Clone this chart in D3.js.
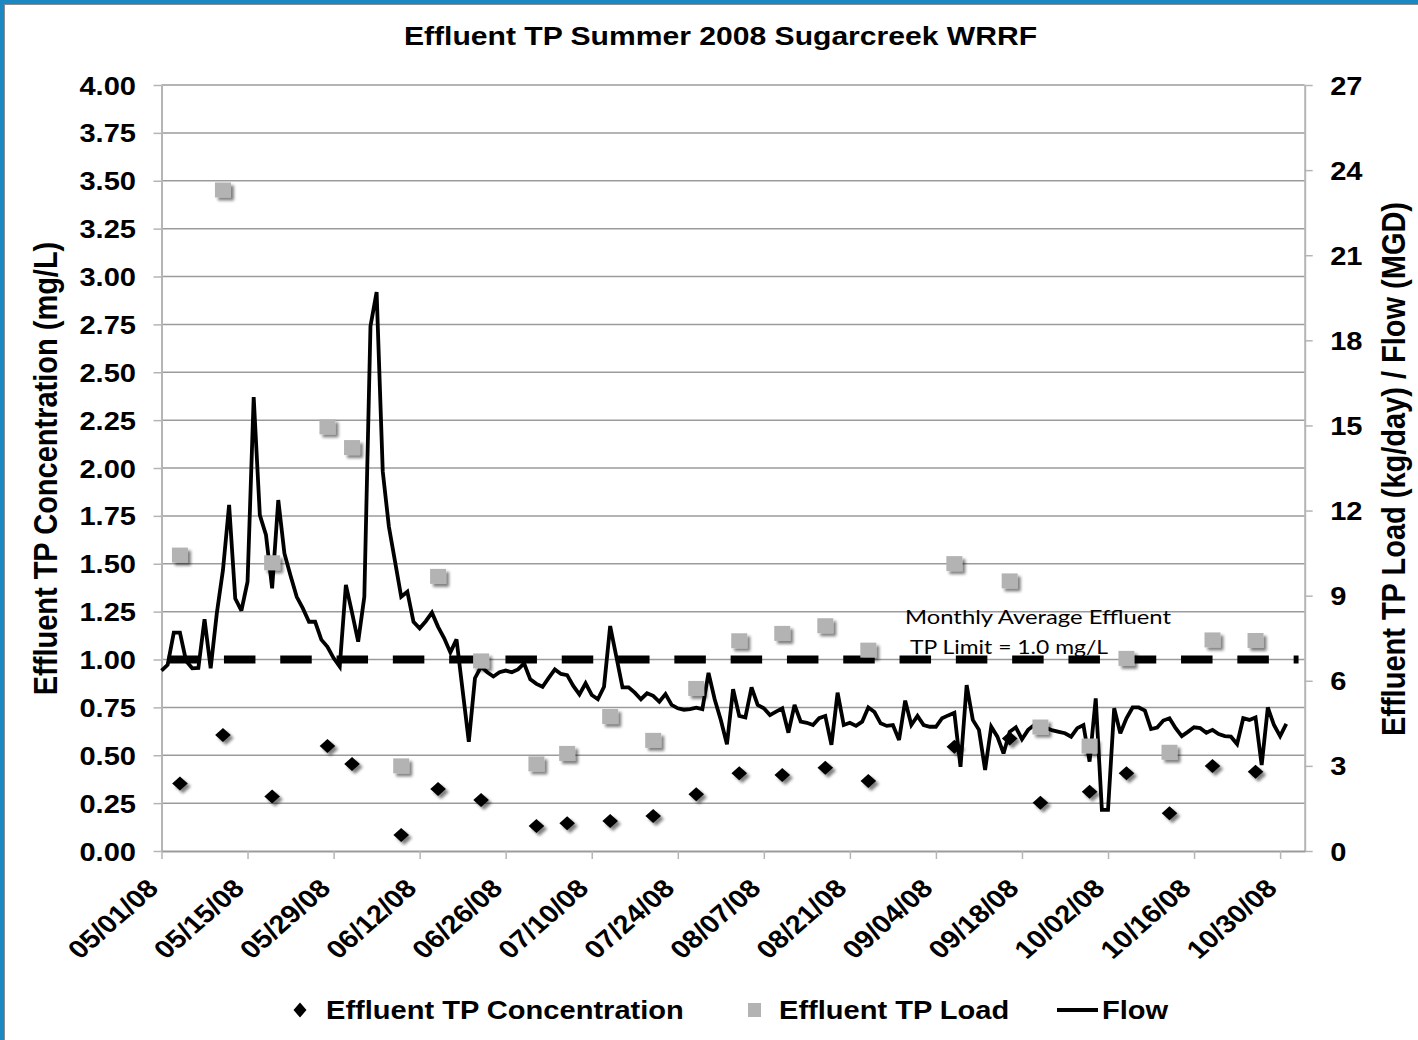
<!DOCTYPE html>
<html><head><meta charset="utf-8">
<script src="https://cdn.jsdelivr.net/npm/d3@7"></script>
<style>html,body{margin:0;padding:0;background:#fff;} svg{display:block;}</style>
</head><body>
<svg id="chart" width="1418" height="1040"></svg>
<script>
// ---------------- data ----------------
const chartTitle = "Effluent TP Summer 2008 Sugarcreek WRRF";
const leftAxisTitle = "Effluent TP Concentration (mg/L)";
const rightAxisTitle = "Effluent TP Load (kg/day) / Flow (MGD)";
const seriesNames = ["Effluent TP Concentration", "Effluent TP Load", "Flow"];

const sampleDates = ["2008-05-04","2008-05-11","2008-05-19","2008-05-28","2008-06-01","2008-06-09","2008-06-15","2008-06-22",
  "2008-07-01","2008-07-06","2008-07-13","2008-07-20","2008-07-27","2008-08-03","2008-08-10","2008-08-17","2008-08-24",
  "2008-09-07","2008-09-16","2008-09-21","2008-09-29","2008-10-05","2008-10-12","2008-10-19","2008-10-26"];
const concValues = [0.353,0.606,0.284,0.548,0.454,0.084,0.324,0.266,0.131,0.145,0.157,0.183,0.296,0.406,0.397,0.435,0.366,
  0.545,0.588,0.252,0.310,0.406,0.197,0.444,0.414];
const loadValues = [10.43,23.3,10.16,14.95,14.22,3.0,9.68,6.7,3.07,3.44,4.74,3.9,5.73,7.41,7.67,7.94,7.08,
  10.13,9.52,4.37,3.7,6.79,3.48,7.44,7.42];

const flowStart = "2008-05-01"; // one value per day from this date
const flowValues = [6.36,6.56,7.7,7.7,6.7,6.44,6.45,8.17,6.44,8.38,9.9,12.2,8.9,8.47,9.49,16.0,11.84,11.14,9.26,12.37,
  10.49,9.7,8.96,8.55,8.08,8.08,7.45,7.2,6.8,6.5,9.38,8.4,7.38,8.96,18.5,19.7,13.37,11.43,10.2,8.96,
  9.14,8.08,7.85,8.1,8.4,7.9,7.5,7.0,7.46,5.65,3.85,6.09,6.5,6.3,6.15,6.3,6.36,6.3,6.4,6.61,
  6.05,5.89,5.79,6.1,6.4,6.24,6.2,5.82,5.52,5.91,5.5,5.35,5.79,7.93,6.85,5.77,5.77,5.58,5.35,5.56,
  5.47,5.26,5.53,5.15,5.03,4.98,5.0,5.05,5.0,6.28,5.35,4.62,3.76,5.7,4.76,4.71,5.77,5.15,5.03,4.79,
  4.91,5.03,4.17,5.15,4.56,4.52,4.44,4.68,4.76,3.74,5.58,4.44,4.52,4.41,4.56,5.06,4.9,4.5,4.41,4.44,
  3.91,5.3,4.44,4.76,4.44,4.38,4.38,4.68,4.78,4.87,2.97,5.85,4.62,4.27,2.86,4.38,4.03,3.44,4.2,4.36,
  3.94,4.27,4.44,4.4,4.33,4.25,4.2,4.15,4.03,4.33,4.44,3.15,5.38,1.45,1.45,5.03,4.15,4.68,5.06,5.06,
  4.95,4.3,4.35,4.6,4.68,4.33,4.05,4.2,4.36,4.33,4.17,4.27,4.12,4.05,4.03,3.77,4.68,4.62,4.71,3.03,
  5.06,4.44,4.05,4.48];

const limitValue = 1.0;
const limitDates = ["2008-05-02","2008-11-02"];
const limitNote = ["Monthly Average Effluent", "TP Limit = 1.0 mg/L"];

const xTickDates = ["2008-05-01","2008-05-15","2008-05-29","2008-06-12","2008-06-26","2008-07-10","2008-07-24",
  "2008-08-07","2008-08-21","2008-09-04","2008-09-18","2008-10-02","2008-10-16","2008-10-30"];
const xTickLabels = ["05/01/08","05/15/08","05/29/08","06/12/08","06/26/08","07/10/08","07/24/08",
  "08/07/08","08/21/08","09/04/08","09/18/08","10/02/08","10/16/08","10/30/08"];
const leftTicks = [0,0.25,0.5,0.75,1,1.25,1.5,1.75,2,2.25,2.5,2.75,3,3.25,3.5,3.75,4];
const rightTicks = [0,3,6,9,12,15,18,21,24,27];
const xDomain = ["2008-05-01","2008-11-03"];

// ---------------- drawing ----------------
const SX = 1.14;
const FONT = "'Liberation Sans', Arial, Helvetica, sans-serif";
const parse = d3.utcParse("%Y-%m-%d");
const svg = d3.select("#chart");
const L = 161.5, R = 1304.7, T = 85, B = 851;

const x = d3.scaleUtc().domain(xDomain.map(parse)).range([L, R]);
const yL = d3.scaleLinear().domain([0, 4]).range([B, T]);
const yR = d3.scaleLinear().domain([0, 27]).range([B, T]);

// defs: shadow
const defs = svg.append("defs");
const f = defs.append("filter").attr("id", "sh").attr("x", "-60%").attr("y", "-60%").attr("width", "220%").attr("height", "220%");
f.append("feGaussianBlur").attr("in", "SourceAlpha").attr("stdDeviation", 1.8);
f.append("feOffset").attr("dx", 3).attr("dy", 3).attr("result", "ob");
f.append("feComponentTransfer").attr("in", "ob").attr("result", "sb")
  .append("feFuncA").attr("type", "linear").attr("slope", 0.5);
const fm = f.append("feMerge");
fm.append("feMergeNode").attr("in", "sb");
fm.append("feMergeNode").attr("in", "SourceGraphic");

// background and frame
svg.append("rect").attr("width", 1418).attr("height", 1040).attr("fill", "#fff");
svg.append("rect").attr("x", 0).attr("y", 0).attr("width", 1418).attr("height", 4).attr("fill", "#1b87c3");
svg.append("rect").attr("x", 0).attr("y", 0).attr("width", 4).attr("height", 1040).attr("fill", "#1b87c3");
svg.append("line").attr("x1", 4).attr("x2", 1418).attr("y1", 4.5).attr("y2", 4.5).attr("stroke", "#8c8c8c").attr("stroke-width", 1);
svg.append("line").attr("x1", 4.5).attr("x2", 4.5).attr("y1", 4).attr("y2", 1040).attr("stroke", "#8c8c8c").attr("stroke-width", 1);

function stretchedText(g, tx, ty, txt, opts) {
  const rot = opts.rotate ? ` rotate(${opts.rotate})` : "";
  return g.append("text")
    .attr("transform", `translate(${tx},${ty}) scale(${opts.sx || SX},1)${rot}`)
    .attr("text-anchor", opts.anchor || "start")
    .attr("font-family", opts.family || FONT)
    .attr("font-weight", opts.weight || "bold")
    .attr("font-size", opts.size || 25.5)
    .attr("fill", opts.fill || "#000")
    .text(txt);
}

// title
stretchedText(svg, (404 + 1037) / 2, 44.5, chartTitle, { anchor: "middle", size: 26.4 });

// gridlines
svg.append("g").selectAll("line").data(leftTicks.filter(v => v > 0)).join("line")
  .attr("x1", L).attr("x2", R).attr("y1", d => yL(d)).attr("y2", d => yL(d))
  .attr("stroke", "#9b9b9b").attr("stroke-width", 1.5);

// axes
const axisColor = "#b5b5b5";
const gl = svg.append("g").attr("transform", `translate(${L},0)`)
  .call(d3.axisLeft(yL).tickValues(leftTicks).tickSize(8).tickSizeOuter(0).tickFormat(d3.format(".2f")));
const gr = svg.append("g").attr("transform", `translate(${R},0)`)
  .call(d3.axisRight(yR).tickValues(rightTicks).tickSize(8).tickSizeOuter(0).tickFormat(d3.format("d")));
const gb = svg.append("g").attr("transform", `translate(0,${B})`)
  .call(d3.axisBottom(x).tickValues(xTickDates.map(parse)).tickSize(8).tickSizeOuter(0)
    .tickFormat((d, i) => xTickLabels[i]));
[gl, gr, gb].forEach(g => {
  g.select(".domain").attr("stroke", axisColor).attr("stroke-width", 2);
  g.selectAll(".tick line").attr("stroke", axisColor).attr("stroke-width", 1.5);
  g.selectAll(".tick text").attr("fill", "#000").attr("font-family", FONT).attr("font-weight", "bold")
    .attr("font-size", 25.5).attr("x", null).attr("y", null).attr("dy", null);
});
gb.select(".domain").attr("stroke", "#9b9b9b");
gl.selectAll(".tick text").attr("text-anchor", "end").attr("transform", `translate(-25.5,9) scale(${SX},1)`);
gr.selectAll(".tick text").attr("text-anchor", "start").attr("transform", `translate(25.5,9) scale(${SX},1)`);
gb.selectAll(".tick text").attr("text-anchor", "end").attr("transform", `translate(-2,39) scale(${SX},1) rotate(-45)`);

// axis titles
stretchedText(svg, 57, (240 + 697) / 2, leftAxisTitle, { anchor: "middle", size: 29, rotate: -90 });
stretchedText(svg, 1405, (200 + 738) / 2, rightAxisTitle, { anchor: "middle", size: 29, rotate: -90 });

// flow line
const flowData = flowValues.map((v, i) => ({ date: d3.utcDay.offset(parse(flowStart), i), v }));
svg.append("path").datum(flowData)
  .attr("d", d3.line().x(d => x(d.date)).y(d => yR(d.v)))
  .attr("fill", "none").attr("stroke", "#000").attr("stroke-width", 3.8)
  .attr("stroke-linejoin", "miter").attr("stroke-miterlimit", 3);

// annotation
svg.append("text").attr("x", 905).attr("y", 624).attr("font-family", "Lato, 'Open Sans', sans-serif")
  .attr("font-size", 19.2).attr("fill", "#000").attr("textLength", 266).attr("lengthAdjust", "spacingAndGlyphs").text(limitNote[0]);
svg.append("text").attr("x", 910).attr("y", 654).attr("font-family", "Lato, 'Open Sans', sans-serif")
  .attr("font-size", 19.2).attr("fill", "#000").attr("textLength", 198).attr("lengthAdjust", "spacingAndGlyphs").text(limitNote[1]);

// limit dashed line
svg.append("line")
  .attr("x1", x(parse(limitDates[0]))).attr("x2", x(parse(limitDates[1])))
  .attr("y1", yL(limitValue)).attr("y2", yL(limitValue))
  .attr("stroke", "#000").attr("stroke-width", 8).attr("stroke-dasharray", "31.5,24.8");

// load squares
const samples = sampleDates.map((d, i) => ({ date: parse(d), c: concValues[i], l: loadValues[i] }));
svg.append("g").attr("filter", "url(#sh)").selectAll("rect").data(samples).join("rect")
  .attr("x", d => x(d.date) - 8).attr("y", d => yR(d.l) - 7.5)
  .attr("width", 16).attr("height", 15).attr("fill", "#b3b3b3");

// concentration diamonds
const diamond = (cx, cy, hw, hh) => `M${cx},${cy - hh}L${cx + hw},${cy}L${cx},${cy + hh}L${cx - hw},${cy}Z`;
svg.append("g").attr("filter", "url(#sh)").selectAll("path").data(samples).join("path")
  .attr("d", d => diamond(x(d.date), yL(d.c), 7.8, 7)).attr("fill", "#000");

// legend
const lg = svg.append("g");
lg.append("path").attr("d", diamond(300, 1010, 6.5, 7.5)).attr("fill", "#000");
stretchedText(lg, 326, 1019, seriesNames[0], {});
lg.append("rect").attr("x", 748).attr("y", 1003).attr("width", 13).attr("height", 14).attr("fill", "#b3b3b3");
stretchedText(lg, 779, 1019, seriesNames[1], {});
lg.append("line").attr("x1", 1057).attr("x2", 1098).attr("y1", 1010).attr("y2", 1010).attr("stroke", "#000").attr("stroke-width", 4);
stretchedText(lg, 1102, 1019, seriesNames[2], {});
</script>
</body></html>
